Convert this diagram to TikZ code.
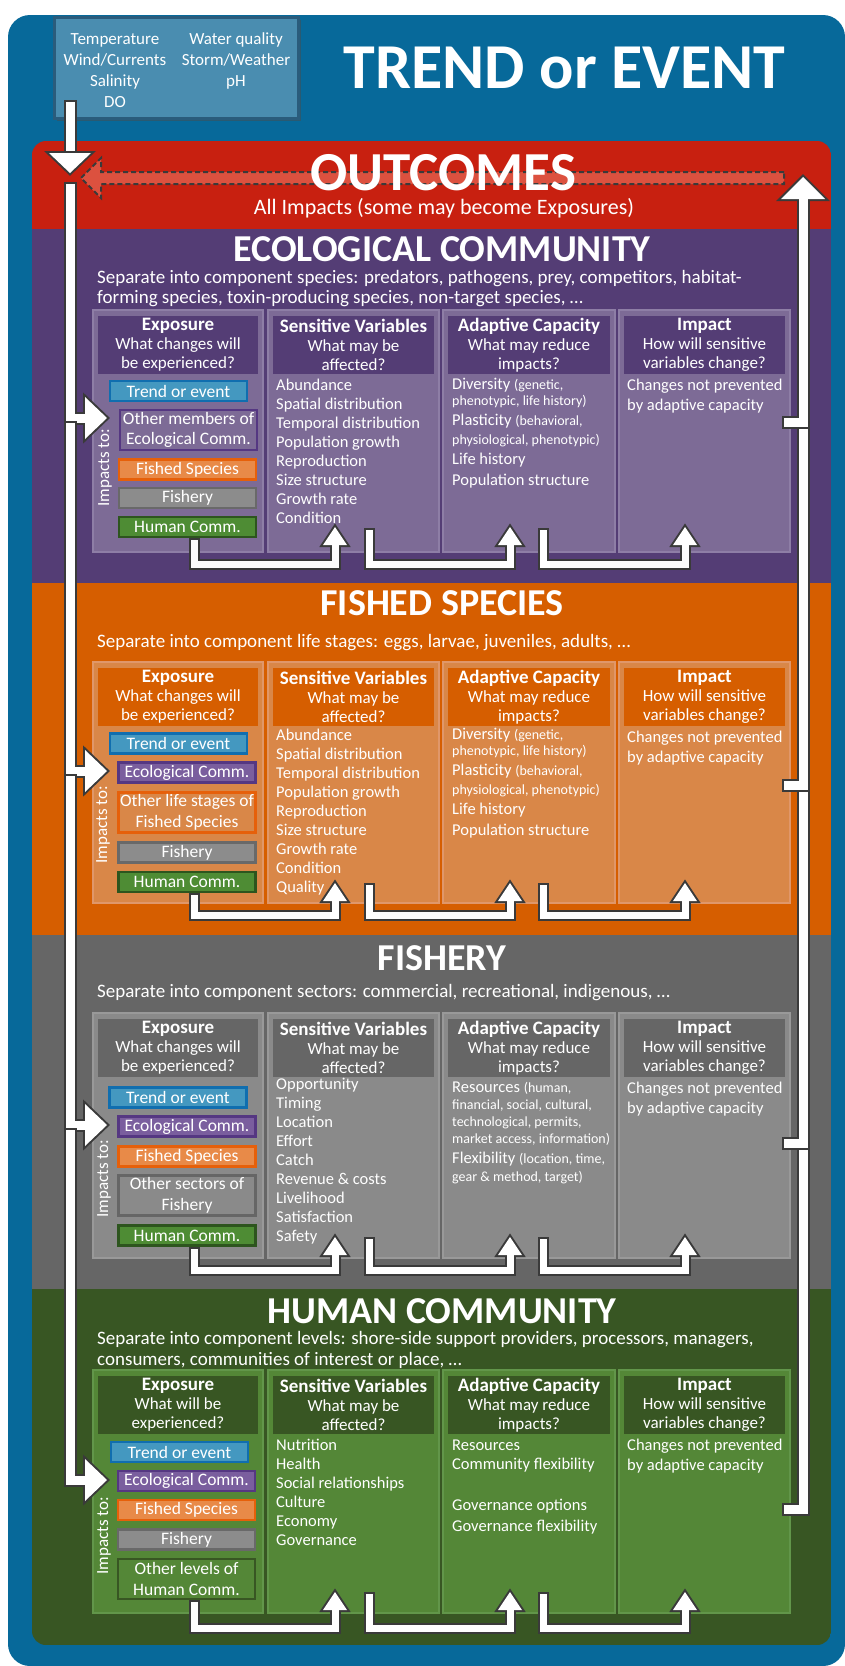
\documentclass[tikz,border=0pt]{standalone}
\usepackage{fontspec}
\setmainfont{Carlito}
\newcommand\fsz[2]{\fontsize{#1}{#2}\selectfont}
\newcommand\smallpar{\fsz{14}{15}}
\newcommand\hbold{\fsz{19}{19}\bfseries}
\definecolor{outerblue}{HTML}{07699A}
\definecolor{topbox}{HTML}{4A8DB0}
\definecolor{topboxb}{HTML}{2A5C7C}
\definecolor{outred}{HTML}{C82010}
\definecolor{dashred}{HTML}{E05A48}
\definecolor{purbg}{HTML}{543D75}
\definecolor{purpn}{HTML}{7D6B96}
\definecolor{purpb}{HTML}{8E7EA6}
\definecolor{orbg}{HTML}{D65E00}
\definecolor{orpn}{HTML}{D98748}
\definecolor{orpb}{HTML}{E0976A}
\definecolor{grbg}{HTML}{666666}
\definecolor{grpn}{HTML}{8A8A8A}
\definecolor{grpb}{HTML}{999999}
\definecolor{gnbg}{HTML}{385623}
\definecolor{gnpn}{HTML}{548737}
\definecolor{gnpb}{HTML}{62964A}
\definecolor{trf}{HTML}{4498C0}
\definecolor{trb}{HTML}{106EAF}
\definecolor{ecf}{HTML}{7A5E9E}
\definecolor{ecb}{HTML}{553782}
\definecolor{fsf}{HTML}{E88A48}
\definecolor{fsb}{HTML}{E6600A}
\definecolor{fyf}{HTML}{8C8C8C}
\definecolor{fyb}{HTML}{696969}
\definecolor{hcf}{HTML}{4E8C34}
\definecolor{hcb}{HTML}{2D551E}
\definecolor{adark}{HTML}{3A3A3A}
\tikzset{
 every node/.style={text=white},
 hdr/.style={align=center, inner sep=0pt, font=\fsz{17}{19}},
 body/.style={anchor=base west, inner sep=0pt, font=\fsz{16.5}{19}},
 ibox/.style={minimum width=137pt, minimum height=20pt, inner sep=0pt, line width=2.5pt, font=\fsz{17.5}{20.5}, align=center},
 ibox2/.style={ibox, minimum height=40pt},
 imp/.style={rotate=90, inner sep=0pt, font=\fsz{17}{19}},
 stitle/.style={anchor=base, inner sep=0pt, font=\fsz{38}{40}\bfseries},
 sub/.style={anchor=base west, inner sep=0pt, font=\fsz{19}{21}},
 toptxt/.style={anchor=base, inner sep=0pt, font=\fsz{17}{21}},
 mdark/.style={line width=13pt, draw=adark, line join=miter},
 mwhite/.style={line width=9pt, draw=white, line join=miter, shorten <=2pt},
 hdark/.style={fill=adark, draw=adark, line width=4pt, line join=miter},
 udark/.style={line width=11pt, draw=adark, line join=miter},
 uwhite/.style={line width=7pt, draw=white, line join=miter, shorten <=2pt},
}
\newcommand\panels[5]{%
 \foreach \xa/\xb in {93/263,268/439,443/615,619/790}{
  \filldraw[fill=#3, draw=#4, line width=1.5pt] (\xa,#1) rectangle (\xb,#2);
  \fill[#5] (\xa+5,#1+6) rectangle (\xb-5,#1+64);
 }}
\newcommand\headers[3]{%
 \node[hdr] (#2-hexp) at (178,#1+35) {{\hbold Exposure}\\#3};
 \node[hdr] (#2-hsv) at (353.5,#1+35) {{\hbold Sensitive Variables}\\What may be\\affected?};
 \node[hdr] (#2-hac) at (529,#1+35) {{\hbold Adaptive Capacity}\\What may reduce\\impacts?};
 \node[hdr] (#2-him) at (704.5,#1+35) {{\hbold Impact}\\How will sensitive\\variables change?};
 \node[body] (#2-im1) at (627,#1+80) {Changes not prevented};
 \node[body] (#2-im2) at (627,#1+100) {by adaptive capacity};
}
\newcommand\vlist[4]{\foreach \itm [count=\i] in {#4}{\node[body] (#3-\i) at (#1,{#2+(\i-1)*19}) {\itm};}}
\newcommand\Uarrow[5]{%
 \draw[udark] (#1,#2) -- (#1,#3) -- (#4,#3) -- (#4,#5+16);
 \filldraw[hdark] (#4-12,#5+18) -- (#4,#5) -- (#4+12,#5+18) -- cycle;
 \draw[uwhite] (#1,#2) -- (#1,#3) -- (#4,#3) -- (#4,#5+16);
 \fill[white] (#4-12,#5+18) -- (#4,#5) -- (#4+12,#5+18) -- cycle;
}
\newcommand\LeftSeg[3]{%
 \draw[mdark] (70,#1) -- (70,#2) -- (#3-20,#2);
 \filldraw[hdark] (#3-22,#2-21) -- (#3,#2) -- (#3-22,#2+21) -- cycle;
 \draw[mwhite] (70,#1) -- (70,#2) -- (#3-20,#2);
 \fill[white] (#3-22,#2-21) -- (#3,#2) -- (#3-22,#2+21) -- cycle;
}
\newcommand\RightSeg[2]{%
 \draw[mdark] (782,#1) -- (803,#1) -- (803,#2);
 \draw[mwhite] (782,#1) -- (803,#1) -- (803,#2);
}
\begin{document}
\begin{tikzpicture}[x=1pt,y=-1pt]
\useasboundingbox (0,0) rectangle (845,1666);
\fill[white] (0,0) rectangle (845,1666);
\fill[outerblue, rounded corners=22pt] (8,15) rectangle (845,1666);
% top box
\fill[black!70, opacity=0.5] (57,20) rectangle (301,121);
\filldraw[fill=topbox, draw=topboxb, line width=3pt] (54,17) rectangle (298,118);
\node[toptxt] (tb1) at (115,44) {Temperature};
\node[toptxt] (tb2) at (115,65) {Wind/Currents};
\node[toptxt] (tb3) at (115,86) {Salinity};
\node[toptxt] (tb4) at (115,107) {DO};
\node[toptxt] (tb5) at (236,44) {Water quality};
\node[toptxt] (tb6) at (236,65) {Storm/Weather};
\node[toptxt] (tb7) at (236,86) {pH};
\node[anchor=base, inner sep=0pt, font=\fsz{64}{70}\bfseries] (title) at (564.5,88) {TREND or EVENT};
% inner sections
\begin{scope}
\clip[rounded corners=14pt] (32,141) rectangle (831,1645);
\fill[outred] (32,141) rectangle (831,229);
\fill[purbg] (32,229) rectangle (831,583);
\fill[orbg] (32,583) rectangle (831,935);
\fill[grbg] (32,935) rectangle (831,1289);
\fill[gnbg] (32,1289) rectangle (831,1645);
\end{scope}
% ---------- Ecological community
\node[stitle] (ecotitle) at (442,261) {ECOLOGICAL COMMUNITY};
\node[sub] (ecosub1) at (97,283) {Separate into component species: predators, pathogens, prey, competitors, habitat-};
\node[sub] (ecosub2) at (97,303) {forming species, toxin-producing species, non-target species, \dots};
\panels{310}{552}{purpn}{purpb}{purbg}
\headers{310}{eco}{What changes will\\be experienced?}
\vlist{276}{390}{eco-sv}{Abundance,Spatial distribution,Temporal distribution,Population growth,Reproduction,Size structure,Growth rate,Condition}
\node[body] (eco-ac1) at (452,389) {Diversity {\smallpar(genetic,}};
\node[body] (eco-ac2) at (452,405) {\smallpar phenotypic, life history)};
\node[body] (eco-ac3) at (452,425) {Plasticity {\smallpar(behavioral,}};
\node[body] (eco-ac4) at (452,444) {\smallpar physiological, phenotypic)};
\node[body] (eco-ac5) at (452,464) {Life history};
\node[body] (eco-ac6) at (452,485) {Population structure};
\node[ibox, fill=trf, draw=trb] (eco-tr) at (178.5,391) {Trend or event};
\node[ibox2, fill=purpn, draw=ecb] (eco-oth) at (188.5,430) {Other members of\\Ecological Comm.};
\node[ibox, fill=fsf, draw=fsb] (eco-fs) at (187.5,469.5) {Fished Species};
\node[ibox, fill=fyf, draw=fyb] (eco-fy) at (187.5,498) {Fishery};
\node[ibox, fill=hcf, draw=hcb] (eco-hc) at (187.5,527) {Human Comm.};
\node[imp] (eco-imp) at (105,468) {Impacts to:};
\Uarrow{194}{538}{564}{335}{527}
\Uarrow{369}{528}{564}{510}{527}
\Uarrow{543}{528}{564}{685}{527}
% ---------- Fished species
\node[stitle] (fstitle) at (442,615) {FISHED SPECIES};
\node[sub] (fssub1) at (97,647) {Separate into component life stages: eggs, larvae, juveniles, adults, \dots};
\panels{662}{903}{orpn}{orpb}{orbg}
\headers{662}{fs}{What changes will\\be experienced?}
\vlist{276}{740}{fs-sv}{Abundance,Spatial distribution,Temporal distribution,Population growth,Reproduction,Size structure,Growth rate,Condition,Quality}
\node[body] (fs-ac1) at (452,739) {Diversity {\smallpar(genetic,}};
\node[body] (fs-ac2) at (452,755) {\smallpar phenotypic, life history)};
\node[body] (fs-ac3) at (452,775) {Plasticity {\smallpar(behavioral,}};
\node[body] (fs-ac4) at (452,794) {\smallpar physiological, phenotypic)};
\node[body] (fs-ac5) at (452,814) {Life history};
\node[body] (fs-ac6) at (452,835) {Population structure};
\node[ibox, fill=trf, draw=trb] (fs-tr) at (178.5,743.5) {Trend or event};
\node[ibox, fill=ecf, draw=ecb] (fs-ec) at (187,772.5) {Ecological Comm.};
\node[ibox2, fill=orpn, draw=fsb] (fs-oth) at (187,812.5) {Other life stages of\\Fished Species};
\node[ibox, fill=fyf, draw=fyb] (fs-fy) at (187,852.5) {Fishery};
\node[ibox, fill=hcf, draw=hcb] (fs-hc) at (187,882) {Human Comm.};
\node[imp] (fs-imp) at (103,825) {Impacts to:};
\Uarrow{194}{893}{915}{335}{883}
\Uarrow{369}{883}{915}{510}{883}
\Uarrow{543}{883}{915}{685}{883}
% ---------- Fishery
\node[stitle] (fytitle) at (442,970) {FISHERY};
\node[sub] (fysub1) at (97,997) {Separate into component sectors: commercial, recreational, indigenous, \dots};
\panels{1013}{1258}{grpn}{grpb}{grbg}
\headers{1013}{fy}{What changes will\\be experienced?}
\vlist{276}{1089}{fy-sv}{Opportunity,Timing,Location,Effort,Catch,Revenue \& costs,Livelihood,Satisfaction,Safety}
\node[body] (fy-ac1) at (452,1092) {Resources {\smallpar(human,}};
\node[body] (fy-ac2) at (452,1109) {\smallpar financial, social, cultural,};
\node[body] (fy-ac3) at (452,1126) {\smallpar technological, permits,};
\node[body] (fy-ac4) at (452,1143) {\smallpar market access, information)};
\node[body] (fy-ac5) at (452,1163) {Flexibility {\smallpar(location, time,}};
\node[body] (fy-ac6) at (452,1181) {\smallpar gear \& method, target)};
\node[ibox, fill=trf, draw=trb] (fy-tr) at (178,1097.5) {Trend or event};
\node[ibox, fill=ecf, draw=ecb] (fy-ec) at (187,1126.5) {Ecological Comm.};
\node[ibox, fill=fsf, draw=fsb] (fy-fs) at (187,1156.5) {Fished Species};
\node[ibox2, fill=grpn, draw=grbg] (fy-oth) at (187,1195.5) {Other sectors of\\Fishery};
\node[ibox, fill=hcf, draw=hcb] (fy-hc) at (187,1235.5) {Human Comm.};
\node[imp] (fy-imp) at (104,1179) {Impacts to:};
\Uarrow{194}{1247}{1270}{335}{1237}
\Uarrow{369}{1237}{1270}{510}{1237}
\Uarrow{543}{1237}{1270}{685}{1237}
% ---------- Human community
\node[stitle] (hctitle) at (442,1323) {HUMAN COMMUNITY};
\node[sub] (hcsub1) at (97,1344) {Separate into component levels: shore-side support providers, processors, managers,};
\node[sub] (hcsub2) at (97,1365) {consumers, communities of interest or place, \dots};
\panels{1370}{1613}{gnpn}{gnpb}{gnbg}
\headers{1370}{hc}{What will be\\experienced?}
\vlist{276}{1450}{hc-sv}{Nutrition,Health,Social relationships,Culture,Economy,Governance}
\node[body] (hc-ac1) at (452,1450) {Resources};
\node[body] (hc-ac2) at (452,1469) {Community flexibility};
\node[body] (hc-ac3) at (452,1510) {Governance options};
\node[body] (hc-ac4) at (452,1531) {Governance flexibility};
\node[ibox, fill=trf, draw=trb] (hc-tr) at (179.5,1452) {Trend or event};
\node[ibox, fill=ecf, draw=ecb] (hc-ec) at (186.5,1481) {Ecological Comm.};
\node[ibox, fill=fsf, draw=fsb] (hc-fs) at (186.5,1510) {Fished Species};
\node[ibox, fill=fyf, draw=fyb] (hc-fy) at (186.5,1539.5) {Fishery};
\node[ibox2, fill=gnpn, draw=gnbg] (hc-oth) at (186.5,1579) {Other levels of\\Human Comm.};
\node[imp] (hc-imp) at (104,1536) {Impacts to:};
\Uarrow{194}{1600}{1628}{335}{1592}
\Uarrow{369}{1592}{1628}{510}{1592}
\Uarrow{543}{1592}{1628}{685}{1592}
% ---------- main left arrows
\draw[mdark] (70,100) -- (70,151);
\filldraw[hdark] (49,153) -- (70,173) -- (91,153) -- cycle;
\draw[mwhite] (70,100) -- (70,151);
\fill[white] (49,153) -- (70,173) -- (91,153) -- cycle;
\LeftSeg{182}{418}{107}
\LeftSeg{421}{771}{107}
\LeftSeg{774}{1125}{107}
\LeftSeg{1128}{1480}{107}
% ---------- main right arrows
\RightSeg{1509}{1143}
\RightSeg{1143}{785}
\RightSeg{785}{422}
\draw[mdark] (782,422) -- (803,422) -- (803,197);
\filldraw[hdark] (781,199) -- (803,177) -- (825,199) -- cycle;
\draw[mwhite] (782,422) -- (803,422) -- (803,197);
\fill[white] (781,199) -- (803,177) -- (825,199) -- cycle;
% ---------- outcomes
\filldraw[fill=dashred, fill opacity=0.85, draw=adark, dash pattern=on 5pt off 3pt, line width=2pt] (784,172) -- (101,172) -- (101,158) -- (81,178) -- (101,198) -- (101,184) -- (784,184) -- cycle;
\node[anchor=base, inner sep=0pt, font=\fsz{55}{60}\bfseries] (outcomes) at (443.5,190) {OUTCOMES};
\node[anchor=base, inner sep=0pt, font=\fsz{22}{25}] (allimp) at (444,214.5) {All Impacts (some may become Exposures)};
\end{tikzpicture}
\end{document}
